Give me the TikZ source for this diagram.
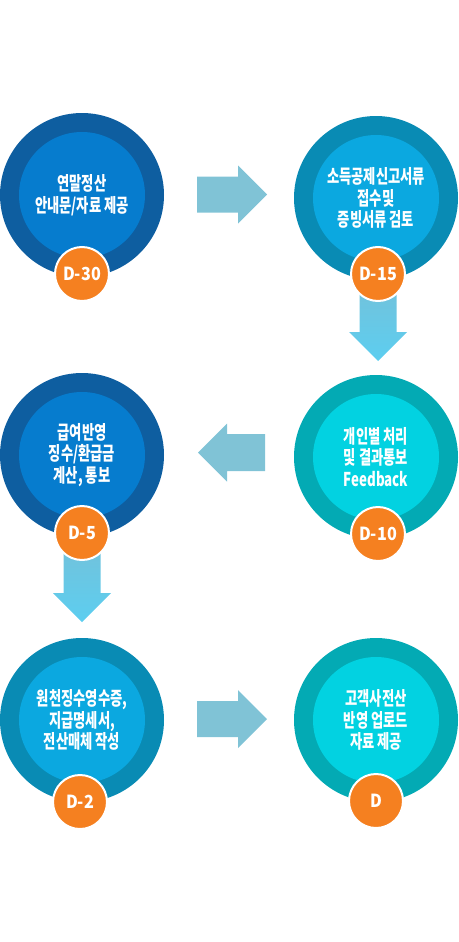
\documentclass[tikz,border=0pt]{standalone}
\usepackage{fontspec}
\usepackage{xcolor}
\usepackage{tikz}
\usetikzlibrary{calc, positioning}
\newfontfamily\krfont[FakeStretch=0.7]{Noto Sans CJK KR}
\newfontfamily\daysfont[FakeStretch=0.9]{Noto Sans CJK KR}

\definecolor{navyring}{RGB}{14,94,160}
\definecolor{navycore}{RGB}{6,124,206}
\definecolor{tealring}{RGB}{9,139,180}
\definecolor{tealcore}{RGB}{11,168,224}
\definecolor{aquaring}{RGB}{3,170,180}
\definecolor{aquacore}{RGB}{2,210,225}
\definecolor{dayorange}{RGB}{245,128,32}
\definecolor{flatarrow}{RGB}{128,195,214}
\definecolor{droptop}{RGB}{118,192,216}
\definecolor{dropmid}{RGB}{72,214,252}
\definecolor{dropbot}{RGB}{92,206,240}

\begin{document}
\begin{tikzpicture}[x=1pt, y=-1pt,
      ring/.style={circle, minimum size=164pt, inner sep=0pt},
      core/.style={circle, minimum size=126pt, inner sep=0pt, align=center,
                   text=white, font=\krfont\bfseries\fontsize{19}{21.5}\selectfont},
      day/.style={circle, draw=white, line width=2pt, fill=dayorange,
                  minimum size=54pt, inner sep=0pt, text=white,
                  font=\daysfont\bfseries\fontsize{18}{20}\selectfont},
      flatarr/.style={fill=flatarrow},
      droparr/.style={top color=droptop, middle color=dropmid, bottom color=dropbot}
    ]
    \useasboundingbox (0,0) rectangle (458,942);

    % steps
    \node[ring, fill=navyring] (c1) at (82,195) {};
    \node[core, fill=navycore] (t1) at (c1) {연말정산\\안내문/자료 제공};
    \node[ring, fill=tealring] (c2) at (376,198) {};
    \node[core, fill=tealcore] (t2) at (c2) {소득공제신고서류\\접수및\\증빙서류 검토};
    \node[ring, fill=navyring] (c3) at (82,455) {};
    \node[core, fill=navycore] (t3) at (c3) {급여반영\\징수/환급금\\계산, 통보};
    \node[ring, fill=aquaring] (c4) at (376,457) {};
    \node[core, fill=aquacore] (t4) at (c4) {개인별 처리\\및 결과통보\\Feedback};
    \node[ring, fill=tealring] (c5) at (82,720) {};
    \node[core, fill=tealcore] (t5) at (c5) {원천징수영수증,\\지급명세서,\\전산매체 작성};
    \node[ring, fill=aquaring] (c6) at (376,720) {};
    \node[core, fill=aquacore] (t6) at (c6) {고객사전산\\반영 업로드\\자료 제공};

    % flat arrows
    \fill[flatarr] ($(c1)!0.5!(c2)+(-32,-20)$) -- ++(41,0) -- ++(0,-11)
      -- ++(29,29) -- ++(-29,29) -- ++(0,-11) -- ++(-41,0) -- cycle;
    \fill[flatarr] ($(c4)!0.5!(c3)+(36,-22)$) -- ++(-38,0) -- ++(0,-10.5)
      -- ++(-29,29) -- ++(29,29) -- ++(0,-10.5) -- ++(38,0) -- cycle;
    \fill[flatarr] ($(c5)!0.5!(c6)+(-32,-19)$) -- ++(41,0) -- ++(0,-11)
      -- ++(29,29) -- ++(-29,29) -- ++(0,-11) -- ++(-41,0) -- cycle;

    % badge anchors and drop arrows
    \coordinate (d2) at ($(c2)+(2,76)$);
    \coordinate (d3) at ($(c3)+(0,78)$);
    \shade[droparr] ($(d2)+(-18.5,0)$) -- ++(37,0) -- ++(0,58) -- ++(10.5,0)
      -- ++(-29,29) -- ++(-29,-29) -- ++(10.5,0) -- cycle;
    \shade[droparr] ($(d3)+(-18.5,0)$) -- ++(37,0) -- ++(0,60) -- ++(10.5,0)
      -- ++(-29,29) -- ++(-29,-29) -- ++(10.5,0) -- cycle;

    % days
    \node[day] (b1) at ($(c1)+(0,79)$) {D-30};
    \node[day] (b2) at (d2) {D-15};
    \node[day] (b3) at (d3) {D-5};
    \node[day] (b4) at ($(c4)+(2,77)$) {D-10};
    \node[day] (b5) at ($(c5)+(-2,82)$) {D-2};
    \node[day] (b6) at ($(c6)+(0,81)$) {D};
  \end{tikzpicture}
\end{document}
